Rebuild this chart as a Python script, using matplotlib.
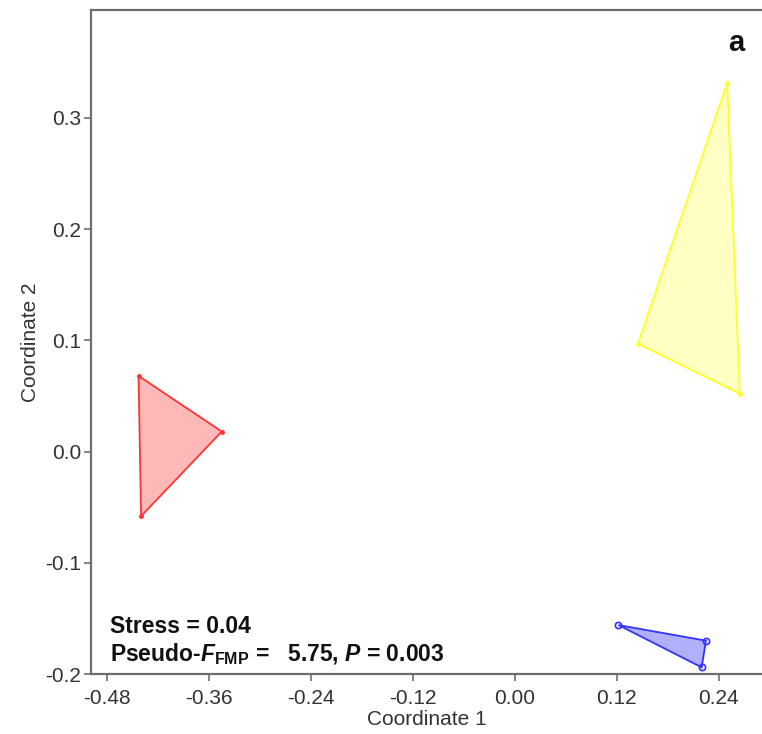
import numpy as np
import matplotlib.pyplot as plt
from matplotlib.patches import Polygon

plt.rcParams['font.family'] = ['Liberation Sans', 'DejaVu Sans']
plt.rcParams['mathtext.fontset'] = 'custom'
plt.rcParams['mathtext.rm'] = 'Liberation Sans:bold'
plt.rcParams['mathtext.it'] = 'Liberation Sans:italic:bold'
plt.rcParams['mathtext.bf'] = 'Liberation Sans:bold'

# nMDS coordinates of each group (3 samples each)
red_x = [-0.443, -0.345, -0.440]
red_y = [0.068, 0.018, -0.058]
yellow_x = [0.250, 0.145, 0.265]
yellow_y = [0.331, 0.097, 0.052]
blue_x = [0.122, 0.225, 0.220]
blue_y = [-0.156, -0.170, -0.194]

xticks = [-0.48, -0.36, -0.24, -0.12, 0.00, 0.12, 0.24]
yticks = [-0.2, -0.1, 0.0, 0.1, 0.2, 0.3]

fig = plt.figure(figsize=(7.62, 7.34), dpi=100)
ax = fig.add_axes([0.1194, 0.0817, 0.8806, 0.9047])

groups = [
    (red_x, red_y, '#ff3333', '#ffb8b8', '.'),
    (yellow_x, yellow_y, '#ffff22', '#ffffc4', '.'),
    (blue_x, blue_y, '#3333ff', '#b0b0ff', 'o'),
]
for gx, gy, ec, fc, mk in groups:
    pts = np.column_stack([gx, gy])
    ax.add_patch(Polygon(pts, closed=True, facecolor=fc, edgecolor=ec,
                         linewidth=1.3, zorder=2))
    if mk == 'o':
        ax.plot(gx, gy, 'o', ms=4.5, mfc='none', mec=ec, mew=1.2, zorder=3)
    else:
        ax.plot(gx, gy, mk, ms=5, color=ec, zorder=3)

ax.set_xlim(-0.499, 0.291)
ax.set_ylim(-0.2, 0.397)
ax.set_xticks(xticks)
ax.set_xticklabels(['%.2f' % v for v in xticks])
ax.set_yticks(yticks)
ax.set_yticklabels(['%.1f' % v for v in yticks])

for s in ['left', 'bottom', 'top']:
    ax.spines[s].set_color('#6e6e6e')
    ax.spines[s].set_linewidth(1.6)
ax.spines['right'].set_visible(False)
ax.tick_params(direction='out', length=5, width=1.2, color='#6e6e6e',
               labelsize=15, labelcolor='#333333')
ax.tick_params(axis='x', pad=6)
ax.tick_params(axis='y', pad=2)

ax.set_xlabel('Coordinate 1', fontsize=15, color='#333333', labelpad=1)
ax.set_ylabel('Coordinate 2', fontsize=15, color='#333333', labelpad=4)

ax.text(0.029, 0.072, 'Stress = 0.04', transform=ax.transAxes,
        fontsize=16.5, fontweight='bold', color='#111111', va='center')
ax.text(0.029, 0.030, r'Pseudo-$F_{\mathrm{FMP}}$ =   5.75, $P$ = 0.003',
        transform=ax.transAxes, fontsize=16.5, fontweight='bold',
        color='#111111', va='center')
ax.text(0.962, 0.951, 'a', transform=ax.transAxes, fontsize=21,
        fontweight='bold', color='#111111', ha='center', va='center')

fig.savefig('out.png', dpi=100)
